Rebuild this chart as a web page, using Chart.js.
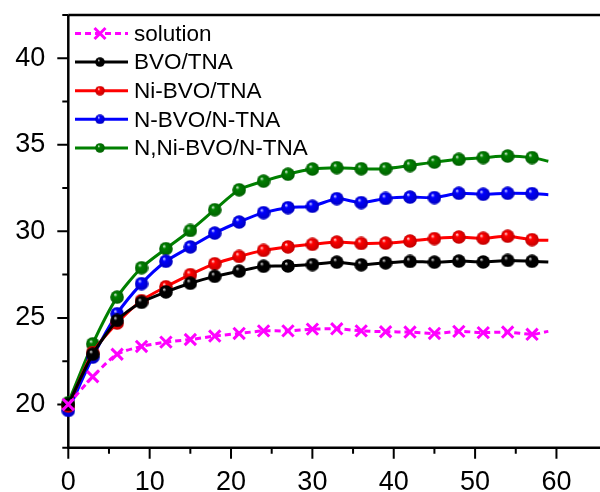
<!DOCTYPE html>
<html lang="en">
<head>
    <meta charset="UTF-8">
    <title>Multi-Line Chart</title>
    <script src="https://cdn.jsdelivr.net/npm/chart.js"></script>
    <style>
        html, body { margin: 0; padding: 0; background: #fff; }
        #wrap { width: 600px; height: 492px; }
    </style>
</head>
<body>
    <div id="wrap"><canvas id="curveChart" width="600" height="492"></canvas></div>
    <script>
        // sampling times (last one is the tail of the curve, no marker)
        const times = [0, 3, 6, 9, 12, 15, 18, 21, 24, 27, 30, 33, 36, 39, 42, 45, 48, 51, 54, 57, 59];

        const solution = [20.0, 21.6, 22.9, 23.35, 23.6, 23.75, 23.95, 24.1, 24.25, 24.25, 24.35, 24.37, 24.25, 24.2, 24.18, 24.1, 24.22, 24.15, 24.18, 24.05, 24.22];
        const bvoTna = [20.0, 22.9, 24.85, 25.9, 26.5, 27.0, 27.4, 27.7, 27.98, 28.0, 28.08, 28.22, 28.07, 28.18, 28.26, 28.22, 28.28, 28.23, 28.32, 28.27, 28.23];
        const niBvoTna = [19.9, 23.0, 24.7, 26.0, 26.8, 27.5, 28.13, 28.55, 28.9, 29.1, 29.25, 29.38, 29.3, 29.32, 29.44, 29.58, 29.67, 29.6, 29.72, 29.52, 29.48];
        const nBvoNTna = [19.65, 22.73, 25.24, 26.98, 28.27, 29.1, 29.9, 30.54, 31.08, 31.37, 31.45, 31.89, 31.66, 31.9, 31.98, 31.95, 32.2, 32.14, 32.2, 32.18, 32.12];
        const nNiBvoNTna = [20.1, 23.5, 26.2, 27.9, 29.0, 30.05, 31.25, 32.4, 32.9, 33.3, 33.6, 33.68, 33.62, 33.62, 33.8, 34.0, 34.16, 34.26, 34.35, 34.26, 34.05];

        const xTicks = [0, 10, 20, 30, 40, 50, 60];
        const yTicks = [20, 25, 30, 35, 40];

        const FONT = 'Arial, "Liberation Sans", sans-serif';

        // shaded ball marker
        function makeSphere(color, r) {
            const c = document.createElement('canvas');
            c.width = c.height = Math.round(r * 2);
            const g = c.getContext('2d');
            const grad = g.createRadialGradient(r * 0.7, r * 0.6, 0, r, r, r);
            grad.addColorStop(0, '#ffffff');
            grad.addColorStop(0.28, color);
            grad.addColorStop(1, shade(color));
            g.fillStyle = grad;
            g.beginPath();
            g.arc(r, r, r - 0.2, 0, Math.PI * 2);
            g.fill();
            return c;
        }
        function shade(color) {
            const n = parseInt(color.slice(1), 16);
            const f = v => Math.round(v * 0.75).toString(16).padStart(2, '0');
            return '#' + f(n >> 16) + f((n >> 8) & 255) + f(n & 255);
        }

        const toPoints = arr => arr.map((v, i) => ({ x: times[i], y: v }));
        const lastIdx = times.length - 1;

        const series = [
            { label: 'solution', data: solution, color: '#ff00ff', dashed: true },
            { label: 'BVO/TNA', data: bvoTna, color: '#000000' },
            { label: 'Ni-BVO/TNA', data: niBvoTna, color: '#ff0000' },
            { label: 'N-BVO/N-TNA', data: nBvoNTna, color: '#0000ff' },
            { label: 'N,Ni-BVO/N-TNA', data: nNiBvoNTna, color: '#008000' }
        ];

        const datasets = series.map(s => ({
            label: s.label,
            data: toPoints(s.data),
            borderColor: s.color,
            backgroundColor: s.color,
            borderWidth: 3,
            borderDash: s.dashed ? [6, 4] : [],
            tension: 0.25,
            clip: false,
            pointStyle: s.dashed ? 'crossRot' : makeSphere(s.color, 7),
            legendSprite: s.dashed ? null : makeSphere(s.color, 5),
            pointRadius: ctx => ctx.dataIndex === lastIdx ? 0 : (s.dashed ? 8 : 7),
            pointBorderWidth: s.dashed ? 3 : 0,
            pointBorderColor: s.color,
            pointHoverRadius: 7
        }));

        // frame with major / minor ticks
        const framePlugin = {
            id: 'frame',
            beforeDatasetsDraw(chart) {
                const { ctx, chartArea: a, scales: { x, y } } = chart;
                ctx.save();
                ctx.strokeStyle = '#000';
                ctx.lineWidth = 2.5;
                ctx.beginPath();
                ctx.moveTo(a.left, a.top);
                ctx.lineTo(chart.width + 5, a.top);
                ctx.moveTo(a.left, a.top);
                ctx.lineTo(a.left, a.bottom);
                ctx.lineTo(chart.width + 5, a.bottom);
                ctx.stroke();
                ctx.lineWidth = 2;
                ctx.beginPath();
                for (let v = 0; v <= 60; v += 5) {
                    const px = x.getPixelForValue(v);
                    const len = v % 10 === 0 ? 11 : 6;
                    ctx.moveTo(px, a.bottom);
                    ctx.lineTo(px, a.bottom + len);
                }
                for (let v = 17.5; v <= 42.5; v += 2.5) {
                    const py = y.getPixelForValue(v);
                    const len = v % 5 === 0 ? 11 : 6;
                    ctx.moveTo(a.left, py);
                    ctx.lineTo(a.left - len, py);
                }
                ctx.stroke();
                ctx.restore();
            }
        };

        // legend in the top-left corner: line sample with marker, then label
        const legendPlugin = {
            id: 'cornerLegend',
            afterDraw(chart) {
                const { ctx } = chart;
                ctx.save();
                ctx.font = '22.5px ' + FONT;
                ctx.textBaseline = 'middle';
                chart.data.datasets.forEach((ds, i) => {
                    const yy = 33.5 + i * 28.6;
                    ctx.strokeStyle = ds.borderColor;
                    ctx.lineWidth = 3;
                    ctx.setLineDash(ds.borderDash);
                    ctx.beginPath();
                    ctx.moveTo(75, yy);
                    ctx.lineTo(128, yy);
                    ctx.stroke();
                    ctx.setLineDash([]);
                    if (ds.legendSprite) {
                        const s = ds.legendSprite;
                        ctx.drawImage(s, 100 - s.width / 2, yy - s.height / 2);
                    } else {
                        ctx.beginPath();
                        const r = 5.5;
                        ctx.moveTo(100 - r, yy - r); ctx.lineTo(100 + r, yy + r);
                        ctx.moveTo(100 + r, yy - r); ctx.lineTo(100 - r, yy + r);
                        ctx.stroke();
                    }
                    ctx.fillStyle = '#000';
                    ctx.fillText(ds.label, 134, yy + 1);
                });
                ctx.restore();
            }
        };

        new Chart(document.getElementById('curveChart').getContext('2d'), {
            type: 'line',
            data: { datasets },
            options: {
                responsive: false,
                animation: false,
                layout: { padding: { top: 15, right: 0, left: 0, bottom: 0 } },
                plugins: { legend: { display: false }, tooltip: { enabled: false } },
                scales: {
                    x: {
                        type: 'linear',
                        min: 0,
                        max: 64,
                        afterBuildTicks: s => { s.ticks = xTicks.map(v => ({ value: v })); },
                        afterFit: s => { s.height = 44.3; s.paddingLeft = 0; s.paddingRight = 0; },
                        grid: { display: false, drawTicks: false },
                        border: { display: false },
                        ticks: { color: '#000', font: { family: FONT, size: 27 }, padding: 19, maxRotation: 0 }
                    },
                    y: {
                        min: 17.5,
                        max: 42.5,
                        afterBuildTicks: s => { s.ticks = yTicks.map(v => ({ value: v })); },
                        afterFit: s => { s.width = 68.3; s.paddingTop = 0; s.paddingBottom = 0; },
                        grid: { display: false, drawTicks: false },
                        border: { display: false },
                        ticks: { color: '#000', font: { family: FONT, size: 27 }, padding: 23 }
                    }
                }
            },
            plugins: [framePlugin, legendPlugin]
        });
    </script>
</body>
</html>
